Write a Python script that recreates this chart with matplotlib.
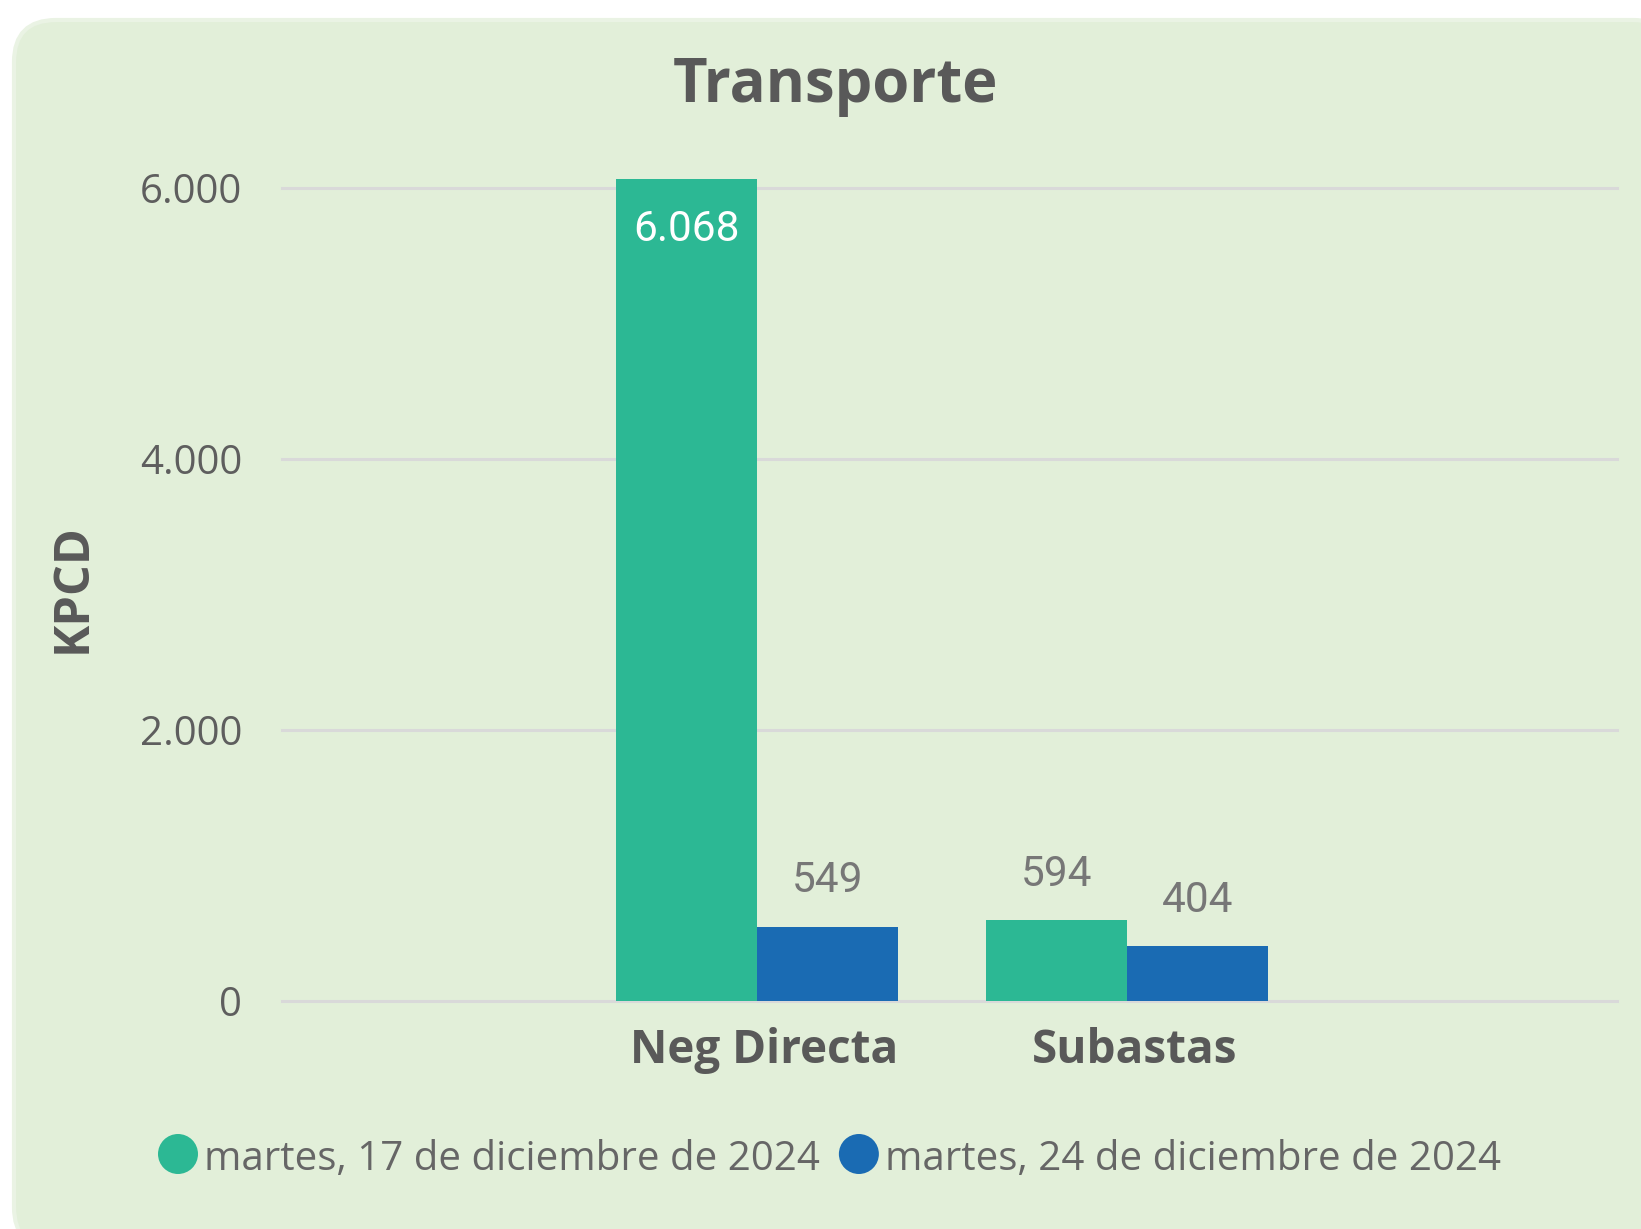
import matplotlib
matplotlib.use("Agg")
import matplotlib.pyplot as plt
from matplotlib.patches import FancyBboxPatch, Ellipse
from matplotlib.transforms import ScaledTranslation
import numpy as np

# ---- data ----
categories = ["Neg Directa", "Subastas"]
series_labels = ["martes, 17 de diciembre de 2024", "martes, 24 de diciembre de 2024"]
series_values = [
    [6068, 594],   # 17 dic 2024
    [549, 404],    # 24 dic 2024
]
series_colors = ["#2CB894", "#1A6BB3"]
yticks = [0, 2000, 4000, 6000]
title = "Transporte"
ylabel = "KPCD"

W, H = 1641, 1229
DPI = 100
FONT = "Open Sans"
NUMFONT = "Roboto"

def fmt(v):
    return f"{v:,.0f}".replace(",", ".")

fig = plt.figure(figsize=(W / DPI, H / DPI), dpi=DPI, facecolor="white")

# rounded panel background
panel = FancyBboxPatch((14, -20), W + 20, H - 20 + 20,
                       boxstyle="round,pad=0,rounding_size=42",
                       transform=None, facecolor="#E2EFD9",
                       edgecolor="#EAF3E4", linewidth=3, zorder=-10)
fig.patches.append(panel)

ax = fig.add_axes([282 / W, 1 - 1001 / H, 1335 / W, (1001 - 120) / H])
ax.set_facecolor("none")
ax.set_zorder(1)
for s in ax.spines.values():
    s.set_visible(False)

x = np.arange(len(categories))
bw = 0.381
nser = len(series_values)
offsets = [(i - (nser - 1) / 2) * bw for i in range(nser)]
ymax = 6500
for i, (vals, col) in enumerate(zip(series_values, series_colors)):
    bars = ax.bar(x + offsets[i], vals, width=bw, color=col, zorder=3, linewidth=0)
    for b, v in zip(bars, vals):
        cx = b.get_x() + b.get_width() / 2
        if v > 0.5 * ymax:
            ax.annotate(fmt(v), (cx, v), xytext=(0, -36.5), textcoords="offset points",
                        ha="center", va="center", color="white", fontsize=30.5,
                        family=NUMFONT, zorder=4)
        else:
            ax.annotate(fmt(v), (cx, v), xytext=(0, 33.0), textcoords="offset points",
                        ha="center", va="center", color="#777777", fontsize=30.5,
                        family=NUMFONT, zorder=4)

ax.set_xlim(-1.284, 2.323)
ax.set_ylim(0, ymax)
ax.set_yticks(yticks)
ax.set_yticklabels([fmt(t) for t in yticks], family=FONT, fontsize=29, color="#5E5E5E")
ax.set_xticks(x)
ax.set_xticklabels(categories, family=FONT, fontsize=33, fontweight="bold", color="#595959")
ax.tick_params(axis="y", length=0, pad=28.8)
ax.tick_params(axis="x", length=0, pad=19)
shift = ScaledTranslation(7 / DPI, 0, fig.dpi_scale_trans)
for lbl in ax.get_xticklabels():
    lbl.set_transform(lbl.get_transform() + shift)
ax.yaxis.grid(True, color="#D9D9D9", linewidth=2.2, zorder=1)
for gl in ax.get_ygridlines():
    gl.set_clip_on(False)
ax.set_axisbelow(True)

fig.text(835 / W, 1 - 102 / H, title, ha="center", va="baseline", family=FONT,
         fontsize=43, fontweight="bold", color="#595959")
fig.text(73 / W, 1 - 588 / H, ylabel, rotation=90, ha="center", va="center",
         family=FONT, fontsize=35, fontweight="bold", color="#595959")

# legend
leg_y = 1154
base_y = 1170
xpos = 158
fig.canvas.draw()
r = fig.canvas.get_renderer()
for lab, col in zip(series_labels, series_colors):
    e = Ellipse((xpos + 20, H - leg_y), 40, 40, transform=None, facecolor=col,
                edgecolor="none", zorder=5)
    fig.patches.append(e)
    t = fig.text((xpos + 46) / W, 1 - base_y / H, lab, ha="left", va="baseline",
                 family=FONT, fontsize=29, color="#666666")
    bb = t.get_window_extent(renderer=r)
    xpos = bb.x1 + 19

fig.savefig("out.png", dpi=DPI, facecolor="white")
